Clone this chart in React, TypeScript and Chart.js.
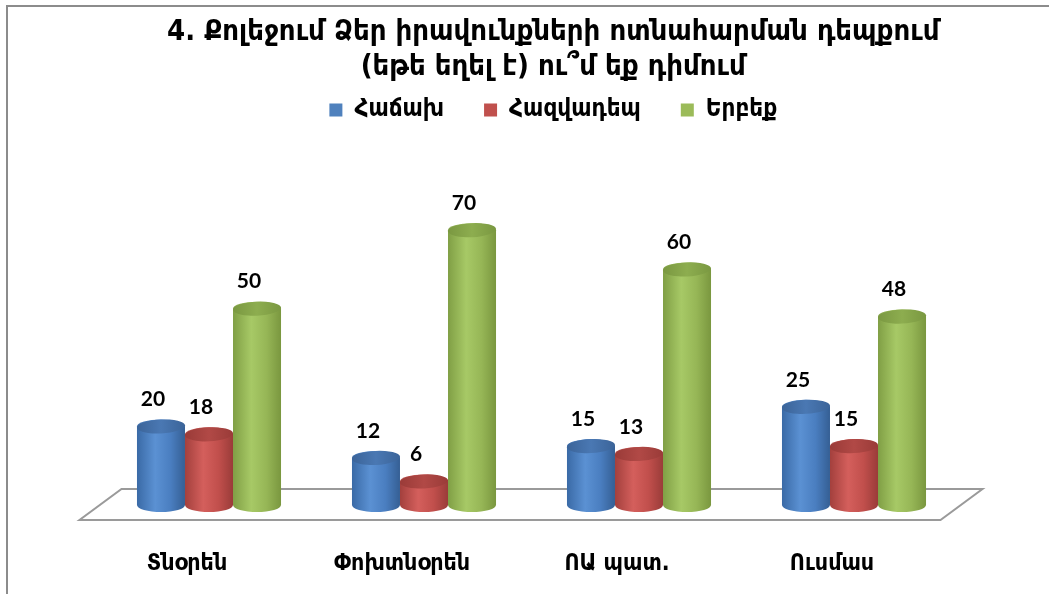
import React, { useEffect, useRef } from "react";
import { Chart, registerables } from "chart.js";

Chart.register(...registerables);

const categories = ["Տնօրեն", "Փոխտնօրեն", "ՈԱ պատ.", "Ուսմաս"];
const seriesNames = ["Հաճախ", "Հազվադեպ", "Երբեք"];
const often = [20, 12, 15, 25];
const rarely = [18, 6, 13, 15];
const never = [50, 70, 60, 48];
const titleLines = ["4. Քոլեջում Ձեր իրավունքների ոտնահարման դեպքում", "(եթե եղել է) ու՞մ եք դիմում"];

const ARM = "'DejaVu Sans Condensed', 'DejaVu Sans', sans-serif";
const NUM = "Lato, 'Open Sans', sans-serif";

const baseColors = ["#4F81BD", "#C0504D", "#9BBB59"];
const bodyStops = [
  ["#3A6AA6", "#5B91D3", "#4A7EC0", "#355F94"],
  ["#A3403D", "#D45F5C", "#C14F4C", "#9A3C39"],
  ["#809F45", "#A7C966", "#96B656", "#7A973F"],
];
const capColors = [
  ["#3B6499", "#4A78B3"],
  ["#9A3B38", "#B14946"],
  ["#7A9841", "#8DAD4F"],
];

const W = 1033;
const H = 579;

const cylinderPlugin = {
  id: "cylinders",
  beforeDatasetsDraw(chart: any) {
    const ctx = chart.ctx;
    const area = chart.chartArea;
    const yScale = chart.scales.y;
    const zero = yScale.getPixelForValue(0);
    ctx.save();
    ctx.beginPath();
    ctx.moveTo(area.left + 20, zero - 16);
    ctx.lineTo(area.right + 21, zero - 16);
    ctx.lineTo(area.right - 21, zero + 15);
    ctx.lineTo(area.left - 22, zero + 15);
    ctx.closePath();
    ctx.fillStyle = "#ffffff";
    ctx.fill();
    ctx.lineWidth = 2;
    ctx.strokeStyle = "#9a9a9a";
    ctx.stroke();
    ctx.restore();

    const ry = 7;
    chart.data.datasets.forEach((ds: any, di: number) => {
      const meta = chart.getDatasetMeta(di);
      meta.data.forEach((el: any) => {
        const { x, y, base, width } = el.getProps(["x", "y", "base", "width"], true);
        const rx = width / 2;
        const x0 = x - rx;
        const x1 = x + rx;
        ctx.save();
        const g = ctx.createLinearGradient(x0, 0, x1, 0);
        const st = bodyStops[di];
        g.addColorStop(0, st[0]);
        g.addColorStop(0.38, st[1]);
        g.addColorStop(0.7, st[2]);
        g.addColorStop(1, st[3]);
        ctx.beginPath();
        ctx.moveTo(x0, y);
        ctx.lineTo(x0, base);
        ctx.ellipse(x, base, rx, ry, 0, Math.PI, 0, true);
        ctx.lineTo(x1, y);
        ctx.ellipse(x, y, rx, ry, 0, 0, Math.PI, true);
        ctx.closePath();
        ctx.fillStyle = g;
        ctx.fill();
        const cg = ctx.createLinearGradient(x0, y, x1, y);
        cg.addColorStop(0, capColors[di][0]);
        cg.addColorStop(0.5, capColors[di][1]);
        cg.addColorStop(1, capColors[di][0]);
        ctx.beginPath();
        ctx.ellipse(x, y, rx, ry, -0.05, 0, Math.PI * 2);
        ctx.fillStyle = cg;
        ctx.fill();
        ctx.restore();
      });
    });

    ctx.save();
    ctx.font = `bold 21px ${NUM}`;
    ctx.fillStyle = "#000000";
    ctx.textAlign = "center";
    ctx.textBaseline = "middle";
    chart.data.datasets.forEach((ds: any, di: number) => {
      const meta = chart.getDatasetMeta(di);
      meta.data.forEach((el: any, i: number) => {
        ctx.fillText(String(ds.data[i]), el.x - 8, el.y - 27);
      });
    });
    ctx.restore();
    return false;
  },
};

export default function App() {
  const ref = useRef<HTMLCanvasElement | null>(null);
  useEffect(() => {
    if (!ref.current) return;
    const chart = new Chart(ref.current, {
      type: "bar",
      data: {
        labels: categories,
        datasets: [
          { label: seriesNames[0], data: often, backgroundColor: baseColors[0] },
          { label: seriesNames[1], data: rarely, backgroundColor: baseColors[1] },
          { label: seriesNames[2], data: never, backgroundColor: baseColors[2] },
        ],
      },
      options: {
        animation: false,
        responsive: false,
        maintainAspectRatio: false,
        devicePixelRatio: 1,
        layout: { padding: { left: 93.5, right: 36, top: 1, bottom: 1 } },
        datasets: { bar: { categoryPercentage: 0.67, barPercentage: 1.0 } },
        scales: {
          x: {
            grid: { display: false },
            border: { display: false },
            ticks: {
              color: "#000000",
              font: { family: ARM, size: 23, weight: "bold" },
              padding: 37,
              labelOffset: -22,
              maxRotation: 0,
            },
            afterFit: (s: any) => {
              s.height = 80;
            },
          },
          y: {
            position: "right",
            min: 0,
            max: 95,
            grid: { display: false },
            border: { display: false },
            ticks: { display: false },
            afterFit: (s: any) => {
              s.width = 43.5;
            },
          },
        },
        plugins: {
          title: {
            display: true,
            text: titleLines,
            color: "#000000",
            font: { family: ARM, size: 29, weight: "bold", lineHeight: 35 / 29 },
            padding: { top: 6.5, bottom: -26.5 },
          },
          legend: {
            display: true,
            position: "top",
            labels: {
              color: "#000000",
              font: { family: ARM, size: 24, weight: "bold" },
              boxWidth: 13,
              boxHeight: 13,
              padding: 40,
            },
          },
          tooltip: { enabled: false },
        },
      },
      plugins: [cylinderPlugin],
    });
    return () => chart.destroy();
  }, []);
  const line = "#8c8c8c";
  return (
    <div style={{ marginTop: -1, width: W, height: H }}>
      <div style={{ position: "fixed", left: 6, top: 5, width: 2, height: 589, background: line }} />
      <div style={{ position: "fixed", left: 6, top: 5, width: 1043, height: 2, background: line }} />
      <canvas ref={ref} width={W} height={H} style={{ display: "block", width: W, height: H }} />
    </div>
  );
}
